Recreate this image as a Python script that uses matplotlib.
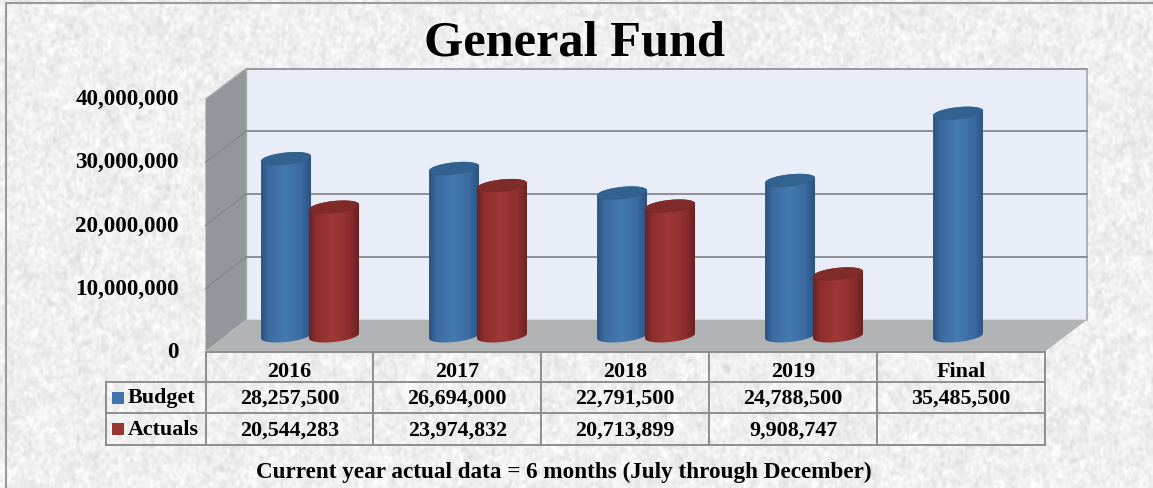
import numpy as np
import matplotlib
matplotlib.use("Agg")
import matplotlib.pyplot as plt
from matplotlib.path import Path
from matplotlib.patches import PathPatch, Polygon, Rectangle

plt.rcParams["font.family"] = ["Liberation Serif", "DejaVu Serif"]

# Fund figures by fiscal year
categories = ["2016", "2017", "2018", "2019", "Final"]
budget = [28257500, 26694000, 22791500, 24788500, 35485500]
actuals = [20544283, 23974832, 20713899, 9908747, None]
axis_ticks = [0, 10000000, 20000000, 30000000, 40000000]

W, H = 1153, 489
PX_PER_UNIT = 6.28e-6   # vertical pixels per dollar
BASE_Y = 337            # pixel row of the cylinder base centres
FIRST_X = 310           # pixel column of the first group centre
COL_W = 168             # pixel width of one category
BAR_W_PX = 50

fig = plt.figure(figsize=(W / 100, H / 100), dpi=100)

# Overlay axes in pixel units for the frame, walls and table
px = fig.add_axes([0, 0, 1, 1], zorder=1)
px.axis("off")

# Value axes sharing the same canvas: x in categories, y in dollars
ax = fig.add_axes([0, 0, 1, 1], zorder=2)
ax.axis("off")
ax.patch.set_alpha(0)

# Paper texture: smoothed noise at two scales
rng = np.random.default_rng(7)


def smooth(a, sx, sy):
    fy = np.fft.fftfreq(a.shape[0])[:, None]
    fx = np.fft.fftfreq(a.shape[1])[None, :]
    g = np.exp(-2 * np.pi ** 2 * ((fx * sx) ** 2 + (fy * sy) ** 2))
    out = np.fft.ifft2(np.fft.fft2(a) * g).real
    return out / out.std()


paper = 0.85 * smooth(rng.normal(size=(H, W)), 1.2, 1.6) + 0.35 * smooth(rng.normal(size=(H, W)), 3.5, 3.5)
paper = np.clip(239 + 6.0 * paper, 205, 252) / 255
px.imshow(paper, cmap="gray", vmin=0, vmax=1, extent=(0, W, H, 0), aspect="auto", zorder=0,
          interpolation="bilinear")
px.set_xlim(0, W)
px.set_ylim(H, 0)

FRAME = "#9a9a9a"
px.plot([5.5, 5.5, W], [H, 3.5, 3.5], color=FRAME, lw=1.5, zorder=1)

# Chart box: back wall, side wall and floor
BX0, BX1, BY0, BY1 = 246, 1087, 69.5, 320.7
FX0, FX1, FY = 205.5, 1045, 352.5
SIDE_TOP = 100
px.add_patch(Polygon([(BX0, BY0), (BX1, BY0), (BX1, BY1), (BX0, BY1)], fc="#e9edf7", ec="none", zorder=2))
px.add_patch(Polygon([(FX0, SIDE_TOP), (BX0, BY0), (BX0, BY1), (FX0, FY)], fc="#93979b", ec="none", zorder=2))
px.add_patch(Polygon([(FX0, FY), (BX0, BY1), (BX1, BY1), (FX1, FY)], fc="#b1b3b5", ec="none", zorder=2))
px.plot([BX0, BX1], [BY0, BY0], color="#8f9296", lw=1.3, zorder=3)
px.plot([BX1, BX1], [BY0, BY1], color="#a3a6ab", lw=1.2, zorder=3)
px.plot([FX0, BX0], [SIDE_TOP, BY0], color="#b0b2b5", lw=1, zorder=3)
px.plot([BX0, BX0], [BY0, BY1], color="#a6a9ad", lw=1, zorder=3)

# Gridlines run along the back wall and down the side wall
for v in axis_ticks[1:-1]:
    y = BY1 - (v / axis_ticks[-1]) * (BY1 - BY0)
    y_front = FY - (v / axis_ticks[-1]) * (FY - SIDE_TOP)
    px.plot([BX0, BX1], [y, y], color="#8b8f97", lw=1.4, zorder=3)
    px.plot([FX0, BX0], [y_front, y], color="#84888e", lw=1, zorder=3)

# Value axis labels
for v in axis_ticks:
    y_front = FY - (v / axis_ticks[-1]) * (FY - SIDE_TOP)
    px.text(179, y_front - 0.2, f"{v:,}", ha="right", va="center", fontsize=16.6, fontweight="bold",
            color="black", zorder=6)


def to_hex(rgb):
    return "#%02x%02x%02x" % tuple(rgb)


def shade(light, mid, dark):
    """Horizontal colour ramp that gives a cylinder its round look."""
    stops = np.array([0, 0.14, 0.48, 0.82, 1.0])
    cols = np.array([dark, mid, light, mid, dark], dtype=float)
    t = np.linspace(0, 1, 64)
    return np.stack([np.interp(t, stops, cols[:, i]) for i in range(3)], axis=-1)[None, :, :] / 255


def cylinder(x_center, value, light, mid, dark, top_col, z):
    """Draw one tilted 3D cylinder from the base up to value."""
    half_w = 0.5 * BAR_W_PX / COL_W
    semi = 6.0 / PX_PER_UNIT
    tilt = 2.5 / PX_PER_UNIT     # rise of the right edge above the ellipse centre
    th = np.linspace(0, 2 * np.pi, 73)
    ring_x = x_center + half_w * np.cos(th)
    ring_y = semi * np.sin(th) + tilt * np.cos(th)

    lower = th >= np.pi   # lower half of the ellipse, running left to right
    outline = np.column_stack([np.r_[ring_x[lower], ring_x[~lower]],
                               np.r_[ring_y[lower], ring_y[~lower] + value]])
    clip = PathPatch(Path(np.vstack([outline, outline[0]])), fc="none", ec="none", transform=ax.transData)
    ax.add_patch(clip)
    im = ax.imshow(shade(light, mid, dark),
                   extent=(x_center - half_w, x_center + half_w, -semi * 2, value + semi * 2),
                   aspect="auto", origin="lower", zorder=z, interpolation="bilinear")
    im.set_clip_path(clip)
    ax.fill(ring_x, value + ring_y, color=top_col, lw=0, zorder=z + 0.1)
    ax.plot(ring_x[lower], value + ring_y[lower], color=to_hex(dark), lw=0.5, alpha=0.35, zorder=z + 0.2)


OFFSET = 24 / COL_W
BLUE = ((68, 122, 176), (58, 106, 160), (44, 82, 128), "#32628f")
RED = ((158, 56, 54), (142, 46, 46), (108, 34, 34), "#7f2b29")
for i, (b, a) in enumerate(zip(budget, actuals)):
    cylinder(i - OFFSET, b, *BLUE, z=3 + i)
    if a is not None:
        cylinder(i + OFFSET, a, *RED, z=3.5 + i)

ax.set_xlim((0 - FIRST_X) / COL_W, (W - FIRST_X) / COL_W)
ax.set_ylim((BASE_Y - H) / PX_PER_UNIT, BASE_Y / PX_PER_UNIT)

# Data table under the chart
LINE = "#8e8e8e"
ROWS = [352.5, 383, 414.3, 445.7]
COLS = [FX0 + (FX1 - FX0) / 5 * i for i in range(6)]
LEG_X = 106
for x in COLS:
    px.plot([x, x], [ROWS[0], ROWS[3]], color=LINE, lw=1.4, zorder=3)
px.plot([LEG_X, LEG_X], [ROWS[1], ROWS[3]], color=LINE, lw=1.4, zorder=3)
px.plot([FX0, FX1], [ROWS[0], ROWS[0]], color=LINE, lw=1.4, zorder=3)
for y in ROWS[1:]:
    px.plot([LEG_X, FX1], [y, y], color=LINE, lw=1.4, zorder=3)

CELL = dict(ha="center", va="center", fontsize=15.8, fontweight="bold", color="black", zorder=6)
for i, cat in enumerate(categories):
    cx = COLS[i] + (COLS[1] - COLS[0]) / 2
    px.text(cx, (ROWS[0] + ROWS[1]) / 2 + 4, cat, **CELL)
    px.text(cx, (ROWS[1] + ROWS[2]) / 2 + 0.2, f"{budget[i]:,}", **CELL)
    if actuals[i] is not None:
        px.text(cx, (ROWS[2] + ROWS[3]) / 2 + 1, f"{actuals[i]:,}", **CELL)

# Legend keys sit in the first table column
for y_mid, col, name in [(398.5, "#3f74ad", "Budget"), (430, "#983532", "Actuals")]:
    px.add_patch(Rectangle((112, y_mid - 6), 12, 12, fc=col, ec="none", zorder=4))
    px.text(128, y_mid, name, ha="left", va="center", fontsize=15.8, fontweight="bold", zorder=6)

px.text(574, 43, "General Fund", ha="center", va="center", fontsize=36.3, fontweight="bold", color="black", zorder=6)
px.text(563.5, 472, "Current year actual data = 6 months (July through December)", ha="center", va="center",
        fontsize=16.7, fontweight="bold", color="black", zorder=6)

fig.savefig("out.png", dpi=100)
